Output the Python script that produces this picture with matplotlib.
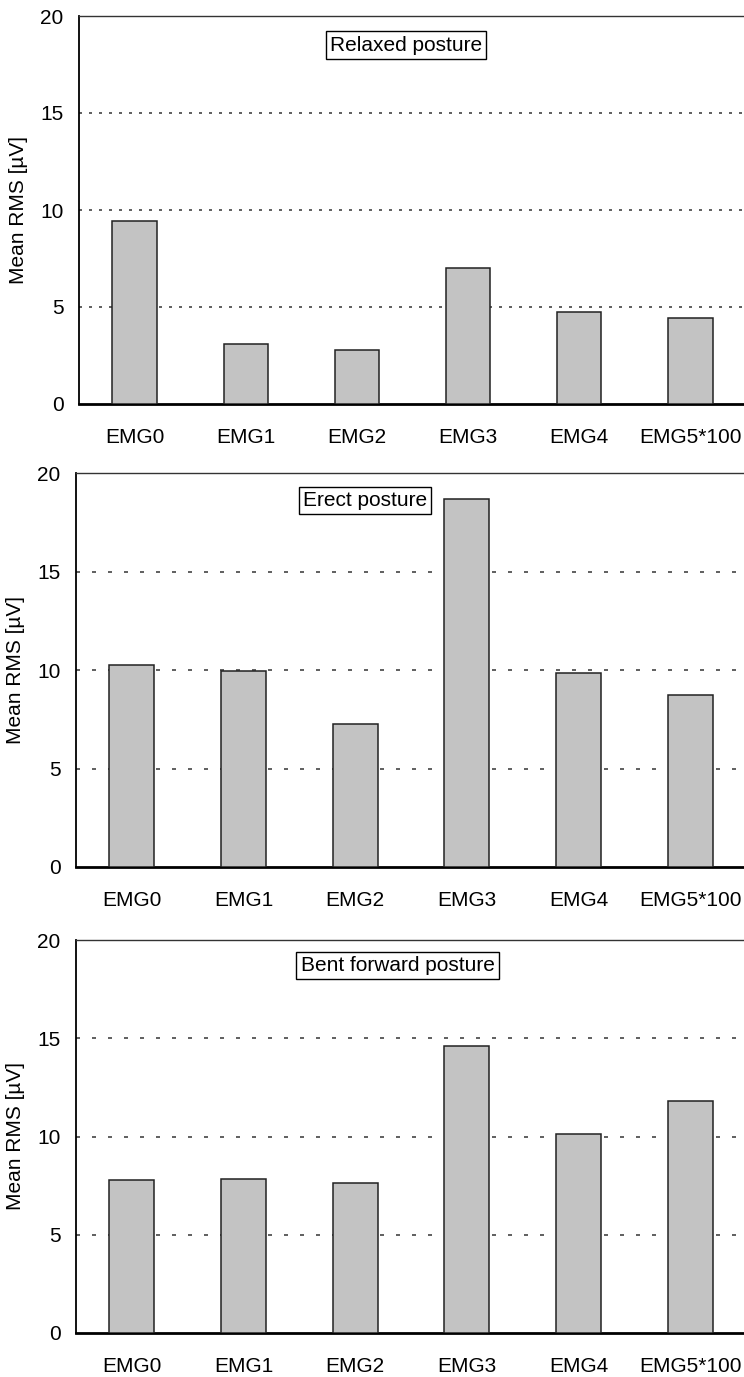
import matplotlib
matplotlib.use("Agg")
import matplotlib.pyplot as plt

plt.rcParams["font.family"] = ["Liberation Sans", "DejaVu Sans"]
plt.rcParams["font.size"] = 15

# ------------------------------------------------------------
# Data
# ------------------------------------------------------------
channels = ["EMG0", "EMG1", "EMG2", "EMG3", "EMG4", "EMG5*100"]
relaxed = [9.44, 3.11, 2.78, 7.02, 4.76, 4.41]
erect = [10.27, 9.97, 7.25, 18.68, 9.83, 8.75]
bent = [7.78, 7.83, 7.65, 14.62, 10.13, 11.79]
titles = ["Relaxed posture", "Erect posture", "Bent forward posture"]

# panel rectangles [left, bottom, width, height] in figure fractions
W, H = 744, 1377
boxes = [
    [79 / W, (H - 404) / H, 667 / W, 388 / H],
    [76 / W, (H - 867) / H, 670 / W, 394 / H],
    [76 / W, (H - 1333) / H, 670 / W, 393 / H],
]
label_pos = [(2.44, 18.5), (2.09, 18.6), (2.38, 18.7)]
grid_dash = [(0, (1.8, 4.2)), (0, (2.4, 7.2)), (0, (2.4, 7.2))]

fig = plt.figure(figsize=(W / 100, H / 100), dpi=100)

for i, vals in enumerate([relaxed, erect, bent]):
    ax = fig.add_axes(boxes[i])
    x = range(len(channels))
    ax.bar(x, vals, width=0.4, color="#c3c3c3", edgecolor="#222222",
           linewidth=1.1, zorder=3)

    ax.set_xlim(-0.5, len(channels) - 0.5)
    ax.set_ylim(0, 20)
    ax.set_yticks([0, 5, 10, 15, 20])
    ax.set_xticks(list(x))
    ax.set_xticklabels(channels)
    ax.tick_params(axis="both", length=0)
    ax.tick_params(axis="x", pad=17)
    ax.tick_params(axis="y", pad=11)

    # dotted horizontal grid
    for yv in [5, 10, 15]:
        ax.axhline(yv, color="#444444", linewidth=1.2,
                   linestyle=grid_dash[i], zorder=1)

    ax.spines["right"].set_visible(False)
    ax.spines["top"].set_linewidth(1.0)
    ax.spines["top"].set_color("#333333")
    ax.spines["left"].set_linewidth(1.3)
    ax.spines["bottom"].set_linewidth(2.0)

    ax.set_ylabel("Mean RMS [µV]")
    ax.yaxis.set_label_coords(-0.076, 0.5)

    lx, ly = label_pos[i]
    ax.text(lx, ly, titles[i], ha="center", va="center", fontsize=15,
            bbox=dict(boxstyle="square,pad=0.2", facecolor="white",
                      edgecolor="black", linewidth=1.0), zorder=5)

fig.savefig("out.png", dpi=100)
